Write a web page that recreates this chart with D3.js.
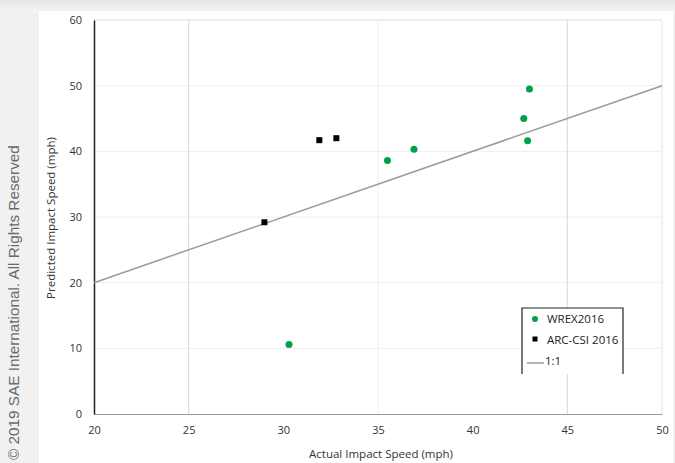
<!DOCTYPE html>
<html>
<head>
<meta charset="utf-8">
<script src="https://cdn.jsdelivr.net/npm/d3@7"></script>
<style>
  body { margin: 0; background: #f3f3f3; }
  svg { display: block; }
</style>
</head>
<body>
<script>
// values
var wrexX = [30.3, 35.5, 36.9, 42.7, 43.0, 42.9];
var wrexY = [10.6, 38.6, 40.3, 45.0, 49.5, 41.6];
var arcX = [29.0, 31.9, 32.8];
var arcY = [29.2, 41.7, 42.0];
var lineX = [20, 50];
var lineY = [20, 50];
var xTicks = [20, 25, 30, 35, 40, 45, 50];
var yTicks = [0, 10, 20, 30, 40, 50, 60];
var legendNames = ["WREX2016", "ARC-CSI 2016", "1:1"];

var W = 675, H = 463;
var plot = {left: 94, right: 662, top: 20, bottom: 414};

const svg = d3.select("body").append("svg")
    .attr("width", W)
    .attr("height", H);

// page background + white card
var defs = svg.append("defs");
var grad = defs.append("linearGradient").attr("id", "topShade").attr("x1", 0).attr("y1", 0).attr("x2", 0).attr("y2", 1);
grad.append("stop").attr("offset", 0).attr("stop-color", "#e6e6e6");
grad.append("stop").attr("offset", 1).attr("stop-color", "#f4f4f4");
svg.append("rect").attr("width", W).attr("height", H).attr("fill", "#f1f1f1");
svg.append("rect").attr("x", 0).attr("y", 0).attr("width", W).attr("height", 12).attr("fill", "url(#topShade)");
svg.append("rect").attr("x", 39).attr("y", 11).attr("width", 634).attr("height", H - 11).attr("fill", "#ffffff");

var x = d3.scaleLinear().domain([20, 50]).range([plot.left, plot.right]);
var y = d3.scaleLinear().domain([0, 60]).range([plot.bottom, plot.top]);

var g = svg.append("g");

// grid
g.selectAll(".hgrid")
    .data(yTicks.filter(function(d) { return d > 0; }))
    .enter().append("line")
    .attr("x1", plot.left).attr("x2", plot.right)
    .attr("y1", function(d) { return y(d); })
    .attr("y2", function(d) { return y(d); })
    .style("stroke", function(d) { return d == 60 ? "#dcdcdc" : "#eeeeee"; })
    .style("stroke-width", 1);

g.selectAll(".vgrid")
    .data([25, 35, 45, 50])
    .enter().append("line")
    .attr("y1", plot.top).attr("y2", plot.bottom)
    .attr("x1", function(d) { return x(d); })
    .attr("x2", function(d) { return x(d); })
    .style("stroke", function(d) { return d == 35 ? "#f0f0f0" : (d == 50 ? "#e4e4e4" : "#d8d8d8"); })
    .style("stroke-width", 1);

// axes
var xAxis = g.append("g")
    .attr("transform", "translate(0," + plot.bottom + ")")
    .call(d3.axisBottom(x).tickValues(xTicks).tickSize(0).tickPadding(12));
xAxis.select(".domain").style("stroke", "#9a9a9a");

var yAxis = g.append("g")
    .attr("transform", "translate(" + plot.left + ",0)")
    .call(d3.axisLeft(y).tickValues(yTicks).tickSize(0).tickPadding(12));
yAxis.select(".domain").style("stroke", "#222").style("stroke-width", 1.5);

g.selectAll(".tick text")
    .style("font-family", "'Open Sans', sans-serif")
    .style("font-size", "11px")
    .style("fill", "#333");

// 1:1 line
g.append("path")
    .attr("d", d3.line()(lineX.map(function(d, i) { return [x(d), y(lineY[i])]; })))
    .style("fill", "none")
    .style("stroke", "#9a9a9a")
    .style("stroke-width", 1.5);

// ARC-CSI squares
g.selectAll(".arc")
    .data(arcX)
    .enter().append("rect")
    .attr("x", function(d) { return x(d) - 3; })
    .attr("y", function(d, i) { return y(arcY[i]) - 3; })
    .attr("width", 6).attr("height", 6)
    .style("fill", "#000");

// WREX circles
g.selectAll(".wrex")
    .data(wrexX)
    .enter().append("circle")
    .attr("cx", function(d) { return x(d); })
    .attr("cy", function(d, i) { return y(wrexY[i]); })
    .attr("r", 3.5)
    .style("fill", "#00a14b");

// axis titles
g.append("text")
    .text("Actual Impact Speed (mph)")
    .attr("x", 381).attr("y", 458)
    .style("text-anchor", "middle")
    .style("font-family", "'Open Sans', sans-serif")
    .style("font-size", "11.5px")
    .style("fill", "#333");

g.append("text")
    .text("Predicted Impact Speed (mph)")
    .attr("transform", "translate(55,218) rotate(-90)")
    .style("text-anchor", "middle")
    .style("font-family", "'Open Sans', sans-serif")
    .style("font-size", "11.5px")
    .style("fill", "#333");

// copyright strip
svg.append("text")
    .text("\u00a9 2019 SAE International. All Rights Reserved")
    .attr("transform", "translate(19,460) rotate(-90)")
    .style("text-anchor", "start")
    .style("font-family", "'Liberation Sans', sans-serif")
    .style("font-size", "15.3px")
    .style("fill", "#6a6a6a");

// legend
var lg = svg.append("g").attr("transform", "translate(522,308)");
lg.append("rect").attr("x", 0).attr("y", 0).attr("width", 101).attr("height", 66).style("fill", "#fff");
lg.append("path")
    .attr("d", "M0,66V0H101V66")
    .style("fill", "none").style("stroke", "#222").style("stroke-width", 1.2);
lg.append("circle").attr("cx", 13).attr("cy", 11).attr("r", 3).style("fill", "#00a14b");
lg.append("rect").attr("x", 10.5).attr("y", 28.5).attr("width", 5).attr("height", 5).style("fill", "#000");
lg.append("line").attr("x1", 5).attr("x2", 22).attr("y1", 55).attr("y2", 55).style("stroke", "#9a9a9a").style("stroke-width", 1.5);
lg.selectAll(".ltext")
    .data(legendNames)
    .enter().append("text")
    .text(function(d) { return d; })
    .attr("x", function(d, i) { return i == 2 ? 23 : 25; })
    .attr("y", function(d, i) { return 15 + i * 21; })
    .style("font-family", "'Open Sans', sans-serif")
    .style("font-size", "11.5px")
    .style("fill", "#222");
</script>
</body>
</html>
